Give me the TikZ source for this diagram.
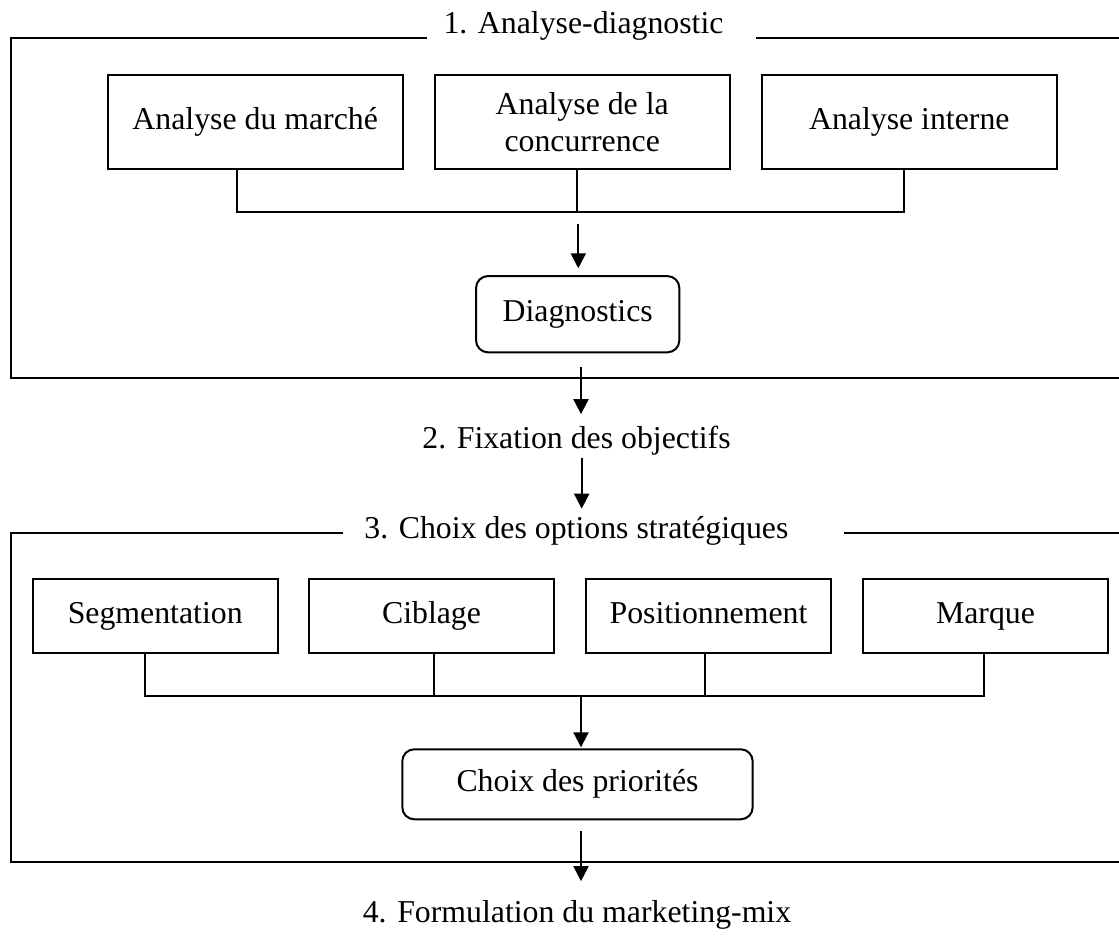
\documentclass[tikz,border=0pt]{standalone}
\usepackage{fontspec}
\setmainfont{Liberation Serif}
\usetikzlibrary{arrows.meta}
\begin{document}
\begin{tikzpicture}[x=1pt,y=-1pt,
  every node/.style={font=\fontsize{31.8}{37}\selectfont},
  wire/.style={line width=2pt},
  arr/.style={line width=2pt,-{Triangle[length=15pt,width=15pt]}},
  box/.style={draw,line width=2pt,minimum width=295pt,minimum height=94pt,inner sep=0pt,align=center},
  optbox/.style={draw,line width=2pt,minimum width=245pt,minimum height=74pt,inner sep=0pt,
    text height=21.7pt,text depth=6.9pt},
  roundbox/.style={draw,line width=2pt,rounded corners=12pt,inner sep=0pt,
    text height=21.7pt,text depth=6.9pt},
  caption/.style={anchor=base,inner sep=0pt}
]
\useasboundingbox (0,0) rectangle (1119,936);

% ---- 1. Analyse-diagnostic ----
\draw[wire] (427,38.3) -- (10.7,38.3) -- (10.7,378.3) -- (1125,378.3);
\draw[wire] (756,38.3) -- (1125,38.3);
\node[caption] (t1) at (583.5,33.3) {1. Analyse-diagnostic};

\node[box,text height=21.7pt,text depth=6.9pt] (b1) at (255.2,122.5) {Analyse du marché};
\node[box] (b2) at (582.2,122.5) {Analyse de la\\concurrence};
\node[box,text height=21.7pt,text depth=6.9pt] (b3) at (909.3,122.5) {Analyse interne};

\coordinate (j1) at (236.7,212.3);
\coordinate (j2) at (576.7,212.3);
\coordinate (j3) at (904.3,212.3);
\draw[wire] (b1.south -| j1) -- (j1) -- (j3) -- (b3.south -| j3);
\draw[wire] (b2.south -| j2) -- (j2);

\node[roundbox,minimum width=203.3pt,minimum height=76.3pt] (diag) at (577.7,314.2) {Diagnostics};
\coordinate (a1) at (578.3,224.3);
\draw[arr,shorten >=6.7pt] (a1) -- (diag.north -| a1);

% ---- 2. Fixation des objectifs ----
\node[caption] (fix) at (576.5,448.3) {2. Fixation des objectifs};
\draw[arr,shorten >=11.6pt] ([xshift=3.3pt,yshift=-13.4pt]diag.south) -- ([xshift=3.3pt]diag.south |- fix.north);

% ---- 3. Choix des options stratégiques ----
\draw[wire] (342.7,533) -- (10.7,533) -- (10.7,862.3) -- (1125,862.3);
\draw[wire] (844.3,533) -- (1125,533);
\node[caption] (t3) at (576.4,538.3) {3. Choix des options stratégiques};
\draw[arr,shorten >=7.3pt] ([xshift=5.2pt,yshift=-3pt]fix.south) -- ([xshift=5.2pt]fix.south |- t3.north);

\node[optbox] (seg)  at (155.2,615.7) {Segmentation};
\node[optbox] (cib)  at (431.5,615.7) {Ciblage};
\node[optbox] (pos)  at (708.5,615.7) {Positionnement};
\node[optbox] (marq) at (985.5,615.7) {Marque};

\coordinate (k1) at (145,696);
\coordinate (k2) at (434.3,696);
\coordinate (k3) at (705.3,696);
\coordinate (k4) at (984.3,696);
\draw[wire] (seg.south -| k1) -- (k1) -- (k4) -- (marq.south -| k4);
\draw[wire] (cib.south -| k2) -- (k2);
\draw[wire] (pos.south -| k3) -- (k3);

\node[roundbox,minimum width=350.4pt,minimum height=70pt] (choix) at (577.5,784.3) {Choix des priorités};
\coordinate (j5) at (581,696);
\draw[arr,shorten >=1pt] (j5) -- (choix.north -| j5);

% ---- 4. Formulation du marketing-mix ----
\node[caption] (form) at (577,922.7) {4. Formulation du marketing-mix};
\draw[arr,shorten >=19.3pt] ([xshift=3.5pt,yshift=-10.7pt]choix.south) -- ([xshift=3.5pt]choix.south |- form.north);
\end{tikzpicture}
\end{document}
